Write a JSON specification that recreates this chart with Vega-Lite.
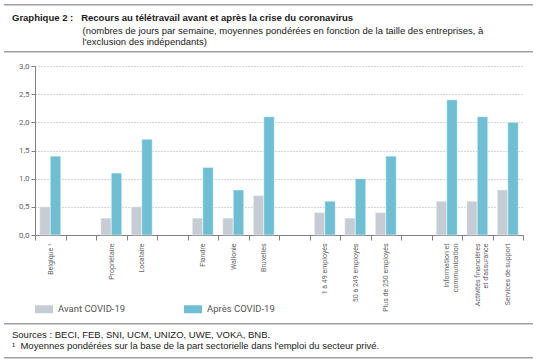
{
  "$schema": "https://vega.github.io/schema/vega-lite/v6.json",
  "padding": {"left": 4, "top": 4, "right": 0, "bottom": 0},
  "background": "white",
  "spacing": 7,
  "datasets": {
    "ligne": [{"a": -0.0622, "b": 1, "k": "ligne"}]
  },
  "resolve": {"scale": {"color": "independent", "x": "independent", "y": "independent"}, "legend": {"color": "independent"}},
  "vconcat": [
    {
      "data": {"name": "ligne"},
      "mark": {"type": "bar", "color": "#a0a0a0"},
      "width": 498,
      "height": 1.5,
      "encoding": {
        "x": {"field": "a", "type": "quantitative", "scale": {"domain": [0, 1], "clamp": false, "nice": false, "zero": false}, "axis": null},
        "x2": {"field": "b"},
        "y": {"field": "k", "type": "nominal", "axis": null, "scale": {"paddingInner": 0, "paddingOuter": 0}}
      }
    },
    {
      "data": {"name": "ligne"},
      "mark": {"type": "bar", "color": "#a0a0a0"},
      "width": 498,
      "height": 1.5,
      "encoding": {
        "x": {"field": "a", "type": "quantitative", "scale": {"domain": [0, 1], "clamp": false, "nice": false, "zero": false}, "axis": null},
        "x2": {"field": "b"},
        "y": {"field": "k", "type": "nominal", "axis": null, "scale": {"paddingInner": 0, "paddingOuter": 0}}
      },
      "title": {
        "text": "Graphique 2 :\u00a0\u00a0\u00a0Recours au télétravail avant et après la crise du coronavirus",
        "subtitle": [
          "\u200b\u00a0\u00a0\u00a0\u00a0\u00a0\u00a0\u00a0\u00a0\u00a0\u00a0\u00a0\u00a0\u00a0\u00a0\u00a0\u00a0\u00a0\u00a0\u00a0\u00a0\u00a0\u00a0\u00a0\u00a0\u00a0\u00a0\u2009(nombres de jours par semaine, moyennes pondérées en fonction de la taille des entreprises, à",
          "\u200b\u00a0\u00a0\u00a0\u00a0\u00a0\u00a0\u00a0\u00a0\u00a0\u00a0\u00a0\u00a0\u00a0\u00a0\u00a0\u00a0\u00a0\u00a0\u00a0\u00a0\u00a0\u00a0\u00a0\u00a0\u00a0\u00a0\u2009l'exclusion des indépendants)"
        ],
        "anchor": "start",
        "frame": "group",
        "dx": -23,
        "offset": 5,
        "font": "Liberation Sans",
        "fontSize": 9.5,
        "fontWeight": "bold",
        "color": "#1a1a1a",
        "subtitleFont": "Liberation Sans",
        "subtitleFontSize": 9.5,
        "subtitleColor": "#1a1a1a",
        "subtitleLineHeight": 11,
        "subtitlePadding": 3
      }
    },
    {
      "width": 488,
      "height": 169,
      "title": {"text": " ", "fontSize": 1, "offset": 1},
      "data": {
        "values": [
          {"cat": "Belgique ¹", "serie": "Avant COVID-19", "val": 0.5},
          {"cat": "Belgique ¹", "serie": "Après COVID-19", "val": 1.4},
          {"cat": "Propriétaire", "serie": "Avant COVID-19", "val": 0.3},
          {"cat": "Propriétaire", "serie": "Après COVID-19", "val": 1.1},
          {"cat": "Locataire", "serie": "Avant COVID-19", "val": 0.5},
          {"cat": "Locataire", "serie": "Après COVID-19", "val": 1.7},
          {"cat": "Flandre", "serie": "Avant COVID-19", "val": 0.3},
          {"cat": "Flandre", "serie": "Après COVID-19", "val": 1.2},
          {"cat": "Wallonie", "serie": "Avant COVID-19", "val": 0.3},
          {"cat": "Wallonie", "serie": "Après COVID-19", "val": 0.8},
          {"cat": "Bruxelles", "serie": "Avant COVID-19", "val": 0.7},
          {"cat": "Bruxelles", "serie": "Après COVID-19", "val": 2.1},
          {"cat": "1 à 49 employés", "serie": "Avant COVID-19", "val": 0.4},
          {"cat": "1 à 49 employés", "serie": "Après COVID-19", "val": 0.6},
          {"cat": "50 à 249 employés", "serie": "Avant COVID-19", "val": 0.3},
          {"cat": "50 à 249 employés", "serie": "Après COVID-19", "val": 1.0},
          {"cat": "Plus de 250 employés", "serie": "Avant COVID-19", "val": 0.4},
          {"cat": "Plus de 250 employés", "serie": "Après COVID-19", "val": 1.4},
          {"cat": "Information et|communication", "serie": "Avant COVID-19", "val": 0.6},
          {"cat": "Information et|communication", "serie": "Après COVID-19", "val": 2.4},
          {"cat": "Activités financières|et d'assurance", "serie": "Avant COVID-19", "val": 0.6},
          {"cat": "Activités financières|et d'assurance", "serie": "Après COVID-19", "val": 2.1},
          {"cat": "Services de support", "serie": "Avant COVID-19", "val": 0.8},
          {"cat": "Services de support", "serie": "Après COVID-19", "val": 2.0}
        ]
      },
      "mark": {"type": "bar", "stroke": "white", "strokeWidth": 0.5},
      "encoding": {
        "x": {
          "field": "cat",
          "type": "nominal",
          "scale": {
            "domain": ["Belgique ¹", " ", "Propriétaire", "Locataire", "  ", "Flandre", "Wallonie", "Bruxelles", "   ", "1 à 49 employés", "50 à 249 employés", "Plus de 250 employés", "    ", "Information et|communication", "Activités financières|et d'assurance", "Services de support"],
            "paddingInner": 0,
            "paddingOuter": 0
          },
          "axis": {
            "title": null,
            "labelAngle": 270,
            "labelExpr": "split(datum.label, '|')",
            "labelFont": "Roboto",
            "labelFontSize": 7,
            "labelColor": "#666",
            "labelLineHeight": 8.5,
            "labelPadding": 3,
            "tickBand": "extent",
            "tickSize": 5,
            "tickColor": "#808080",
            "domainColor": "#808080",
            "labelLimit": 200
          }
        },
        "xOffset": {
          "field": "serie",
          "type": "nominal",
          "sort": ["Avant COVID-19", "Après COVID-19"],
          "scale": {"paddingInner": 0, "paddingOuter": 0.45}
        },
        "y": {
          "field": "val",
          "type": "quantitative",
          "scale": {"domain": [0, 3]},
          "axis": {
            "title": null,
            "values": [0, 0.5, 1, 1.5, 2, 2.5, 3],
            "labelExpr": "replace(format(datum.value, '.1f'), '.', ',')",
            "labelFont": "Roboto",
            "labelFontSize": 8,
            "labelColor": "#666",
            "tickSize": 4,
            "labelPadding": 2,
            "tickColor": "#808080",
            "domainColor": "#808080",
            "grid": true,
            "gridColor": "#aaaaaa",
            "gridDash": [1, 2],
            "minExtent": 31
          }
        },
        "color": {
          "field": "serie",
          "type": "nominal",
          "scale": {"domain": ["Avant COVID-19", "Après COVID-19"], "range": ["#c5ccd3", "#6ebfd3"]},
          "legend": {
            "orient": "none",
            "legendX": -2,
            "legendY": 232,
            "direction": "horizontal",
            "title": null,
            "padding": 2,
            "columnPadding": 58,
            "symbolType": "M-1,-0.444L1,-0.444L1,0.444L-1,0.444Z",
            "symbolSize": 324,
            "symbolStrokeWidth": 0,
            "labelFont": "Roboto",
            "labelFontSize": 9.5,
            "labelColor": "#555",
            "labelOffset": 5
          }
        }
      }
    },
    {
      "data": {"name": "ligne"},
      "mark": {"type": "bar", "color": "#a0a0a0"},
      "width": 498,
      "height": 1.5,
      "encoding": {
        "x": {"field": "a", "type": "quantitative", "scale": {"domain": [0, 1], "clamp": false, "nice": false, "zero": false}, "axis": null},
        "x2": {"field": "b"},
        "y": {"field": "k", "type": "nominal", "axis": null, "scale": {"paddingInner": 0, "paddingOuter": 0}}
      },
      "title": {
        "text": ["Sources : BECI, FEB, SNI, UCM, UNIZO, UWE, VOKA, BNB.", "¹\u00a0\u00a0Moyennes pondérées sur la base de la part sectorielle dans l'emploi du secteur privé."],
        "orient": "bottom",
        "anchor": "start",
        "frame": "group",
        "dx": -23,
        "offset": 5,
        "font": "Liberation Sans",
        "fontSize": 9.5,
        "fontWeight": "normal",
        "lineHeight": 11,
        "color": "#1a1a1a"
      }
    },
    {
      "data": {"name": "ligne"},
      "mark": {"type": "bar", "color": "#a0a0a0"},
      "width": 498,
      "height": 1.5,
      "encoding": {
        "x": {"field": "a", "type": "quantitative", "scale": {"domain": [0, 1], "clamp": false, "nice": false, "zero": false}, "axis": null},
        "x2": {"field": "b"},
        "y": {"field": "k", "type": "nominal", "axis": null, "scale": {"paddingInner": 0, "paddingOuter": 0}}
      }
    }
  ],
  "config": {
    "view": {"stroke": null}
  }
}
